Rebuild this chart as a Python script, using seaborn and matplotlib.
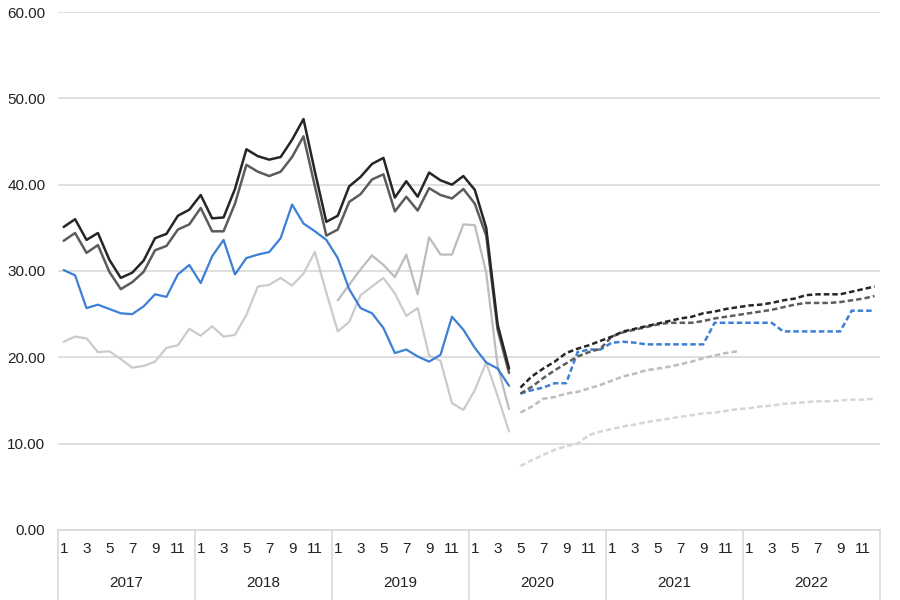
import matplotlib
matplotlib.use("Agg")
import matplotlib.pyplot as plt
import matplotlib.transforms as mtransforms
import numpy as np
import seaborn as sns

# month index 0 = 2017-01 ... 71 = 2022-12
years = ["2017", "2018", "2019", "2020", "2021", "2022"]
month_labels = ["1", "3", "5", "7", "9", "11"]

# actuals, 2017-01 .. 2020-04
actual_black = [35.1, 36.0, 33.6, 34.4, 31.3, 29.2, 29.8, 31.2, 33.8, 34.3, 36.4, 37.1,
                38.8, 36.1, 36.2, 39.5, 44.1, 43.3, 42.9, 43.2, 45.2, 47.6, 41.5, 35.7,
                36.4, 39.8, 40.9, 42.4, 43.1, 38.5, 40.4, 38.6, 41.4, 40.5, 40.0, 41.0,
                39.4, 35.0, 23.8, 18.7]
actual_dark = [33.5, 34.4, 32.1, 33.0, 29.9, 27.9, 28.7, 29.9, 32.4, 32.9, 34.8, 35.4,
               37.3, 34.6, 34.6, 37.8, 42.3, 41.5, 41.0, 41.5, 43.2, 45.6, 39.8, 34.1,
               34.8, 38.0, 38.9, 40.6, 41.2, 36.9, 38.6, 37.0, 39.6, 38.8, 38.4, 39.5,
               37.8, 34.1, 23.2, 18.2]
actual_blue = [30.1, 29.5, 25.7, 26.1, 25.6, 25.1, 25.0, 25.9, 27.3, 27.0, 29.6, 30.7,
               28.6, 31.7, 33.6, 29.6, 31.5, 31.9, 32.2, 33.8, 37.7, 35.5, 34.6, 33.6,
               31.5, 27.9, 25.7, 25.1, 23.4, 20.5, 20.9, 20.1, 19.5, 20.3, 24.7, 23.2,
               21.1, 19.4, 18.7, 16.7]
actual_light = [21.8, 22.4, 22.2, 20.6, 20.7, 19.8, 18.8, 19.0, 19.5, 21.1, 21.4, 23.3,
                22.5, 23.6, 22.4, 22.6, 24.9, 28.2, 28.4, 29.2, 28.3, 29.7, 32.2, 27.5,
                23.0, 24.1, 27.2, 28.2, 29.2, 27.4, 24.8, 25.7, 20.2, 19.6, 14.7, 13.9,
                16.2, 19.4, 15.5, 11.4]
# second light series, 2019-01 .. 2020-04
actual_light2 = [26.6, 28.4, 30.2, 31.8, 30.7, 29.3, 31.9, 27.3, 33.9, 31.9, 31.9, 35.4,
                 35.3, 29.8, 19.0, 14.0]

# forecasts, 2020-05 .. 2022-12
fc_black = [16.5, 17.8, 18.7, 19.5, 20.5, 21.0, 21.4, 21.9, 22.4, 23.0, 23.3, 23.6,
            23.9, 24.2, 24.5, 24.7, 25.1, 25.3, 25.6, 25.8, 26.0, 26.1, 26.3, 26.6,
            26.8, 27.2, 27.3, 27.3, 27.3, 27.6, 27.9, 28.2]
fc_dark = [15.8, 16.6, 17.6, 18.5, 19.3, 20.1, 20.6, 21.0, 22.4, 22.9, 23.2, 23.5,
           23.8, 24.0, 24.0, 24.0, 24.2, 24.5, 24.7, 24.9, 25.1, 25.3, 25.5, 25.8,
           26.1, 26.3, 26.3, 26.3, 26.4, 26.6, 26.8, 27.1]
fc_blue = [15.8, 16.2, 16.5, 17.0, 17.0, 20.6, 20.9, 20.9, 21.7, 21.8, 21.7, 21.5,
           21.5, 21.5, 21.5, 21.5, 21.5, 24.0, 24.0, 24.0, 24.0, 24.0, 24.0, 23.0,
           23.0, 23.0, 23.0, 23.0, 23.0, 25.4, 25.4, 25.4]
# light forecast stops at 2021-12
fc_light = [13.6, 14.3, 15.2, 15.4, 15.8, 16.0, 16.4, 16.8, 17.3, 17.8, 18.1, 18.5,
            18.7, 18.9, 19.2, 19.5, 19.9, 20.2, 20.5, 20.7]
fc_lighter = [7.4, 8.1, 8.7, 9.3, 9.7, 10.0, 11.0, 11.4, 11.7, 12.0, 12.2, 12.5,
              12.7, 12.9, 13.1, 13.3, 13.5, 13.6, 13.8, 14.0, 14.1, 14.3, 14.4, 14.6,
              14.7, 14.8, 14.9, 14.9, 15.0, 15.1, 15.1, 15.2]

sns.set_theme(style="white")
plt.rcParams["font.family"] = ["Liberation Sans", "DejaVu Sans"]

fig, ax = plt.subplots(figsize=(9, 6), dpi=100)
fig.subplots_adjust(left=0.0644, right=0.978, bottom=0.1167, top=0.98)

dash = (0, (2.2, 1.2))
series = [
    (actual_light, 0, "#cbcbcb", "-", 1.6),
    (actual_light2, 24, "#bcbcbc", "-", 1.6),
    (actual_blue, 0, "#3b7fd6", "-", 1.6),
    (actual_dark, 0, "#5c5c5c", "-", 1.8),
    (actual_black, 0, "#262626", "-", 1.8),
    (fc_lighter, 40, "#d6d6d6", dash, 1.8),
    (fc_light, 40, "#bdbdbd", dash, 1.8),
    (fc_blue, 40, "#3b7fd6", dash, 1.8),
    (fc_dark, 40, "#5c5c5c", dash, 1.8),
    (fc_black, 40, "#262626", dash, 1.8),
]
for vals, start, col, ls, lw in series:
    xs = np.arange(start, start + len(vals))
    sns.lineplot(x=xs, y=vals, ax=ax, color=col, linestyle=ls, lw=lw)

ax.set_xlim(-0.5, 71.5)
ax.set_ylim(0, 60)
ax.set_yticks(range(0, 61, 10))
ax.set_yticklabels([f"{v:.2f}" for v in range(0, 61, 10)])
ax.yaxis.grid(True, color="#d9d9d9", lw=1.2)
ax.xaxis.grid(False)
ax.set_axisbelow(True)

ax.set_xticks(range(0, 72, 2))
ax.set_xticklabels(month_labels * len(years))
ax.tick_params(axis="both", length=0, labelsize=11, labelcolor="#222222")
ax.tick_params(axis="x", pad=9)
ax.tick_params(axis="y", pad=9)

for side in ["left", "right", "top"]:
    ax.spines[side].set_visible(False)
ax.spines["bottom"].set_color("#d9d9d9")
ax.spines["bottom"].set_linewidth(1.2)

# year axis under the month labels
trans = mtransforms.blended_transform_factory(ax.transData, ax.transAxes)
for k in range(len(years) + 1):
    ax.plot([12 * k - 0.5, 12 * k - 0.5], [0, -0.14], transform=trans,
            color="#d9d9d9", lw=1.2, clip_on=False)
for k, yr in enumerate(years):
    ax.text(12 * k + 5.5, -0.102, yr, transform=trans, ha="center", va="center",
            fontsize=11, color="#222222")

ax.set_xlabel("")
ax.set_ylabel("")
fig.savefig("out.png", dpi=100)
